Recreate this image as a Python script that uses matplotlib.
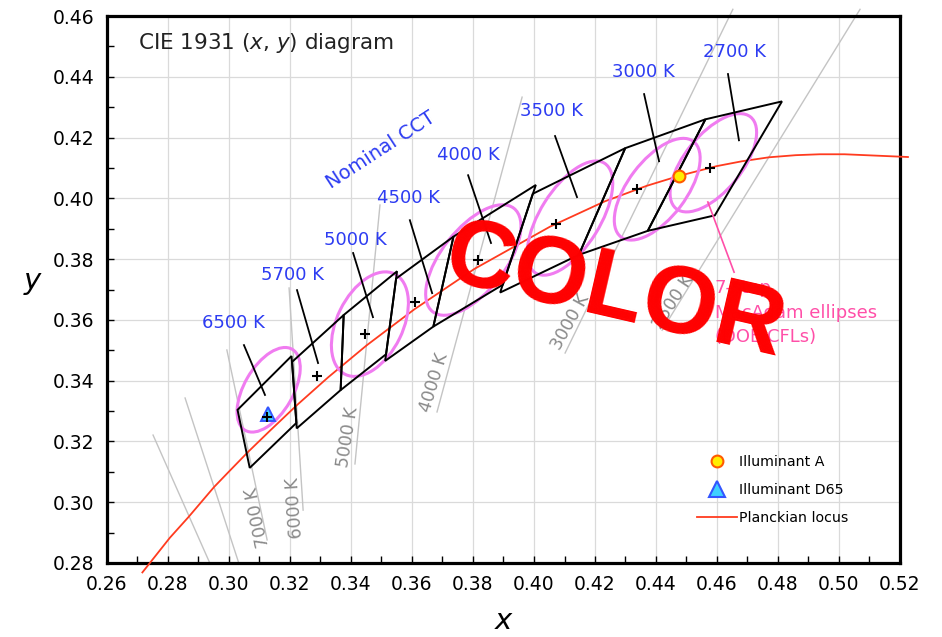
import matplotlib
matplotlib.use('Agg')
import matplotlib.pyplot as plt
from matplotlib.patches import Ellipse, Polygon
from matplotlib.lines import Line2D
from matplotlib.ticker import MultipleLocator, FormatStrFormatter

plt.rcParams['font.family'] = ['DejaVu Sans']
plt.rcParams['mathtext.fontset'] = 'dejavusans'

# ---------------- data ----------------
# Planckian locus (x, y)
planck_x = [0.2716, 0.2806, 0.2867, 0.2951, 0.2999, 0.3063, 0.3135, 0.3221, 0.3325,
            0.3451, 0.3608, 0.3805, 0.4053, 0.4232, 0.4369, 0.4476, 0.4599, 0.4682,
            0.4770, 0.4858, 0.4937, 0.5018, 0.5226]
planck_y = [0.2769, 0.2883, 0.2951, 0.3050, 0.3100, 0.3166, 0.3236, 0.3318, 0.3411,
            0.3516, 0.3635, 0.3768, 0.3907, 0.3990, 0.4041, 0.4074, 0.4106, 0.4122,
            0.4135, 0.4142, 0.4145, 0.4145, 0.4136]

# ANSI quadrangles (nominal CCT)
quad_labels = ['6500 K', '5700 K', '5000 K', '4500 K', '4000 K', '3500 K', '3000 K', '2700 K']
quad_x = [[0.3205, 0.3028, 0.3068, 0.3221],
          [0.3376, 0.3207, 0.3222, 0.3366],
          [0.3551, 0.3376, 0.3366, 0.3515],
          [0.3736, 0.3548, 0.3512, 0.3670],
          [0.4006, 0.3736, 0.3670, 0.3898],
          [0.4299, 0.3996, 0.3889, 0.4147],
          [0.4562, 0.4299, 0.4147, 0.4373],
          [0.4813, 0.4562, 0.4373, 0.4593]]
quad_y = [[0.3481, 0.3304, 0.3113, 0.3261],
          [0.3616, 0.3462, 0.3243, 0.3369],
          [0.3760, 0.3616, 0.3369, 0.3487],
          [0.3874, 0.3736, 0.3465, 0.3578],
          [0.4044, 0.3874, 0.3578, 0.3716],
          [0.4165, 0.4015, 0.3690, 0.3814],
          [0.4260, 0.4165, 0.3814, 0.3893],
          [0.4319, 0.4260, 0.3893, 0.3944]]
quad_cx = [0.3123, 0.3287, 0.3447, 0.3611, 0.3818, 0.4073, 0.4338, 0.4578]
quad_cy = [0.3282, 0.3417, 0.3553, 0.3658, 0.3797, 0.3917, 0.4030, 0.4101]

# blue label anchors and leader lines
label_x = [0.3013, 0.3207, 0.3413, 0.3587, 0.3784, 0.4059, 0.4357, 0.4656]
label_y = [0.3589, 0.3747, 0.3863, 0.4001, 0.4142, 0.4287, 0.4415, 0.4481]
lead_x0 = [0.3049, 0.3223, 0.3407, 0.3593, 0.3784, 0.4069, 0.4361, 0.4636]
lead_y0 = [0.3517, 0.3698, 0.3820, 0.3928, 0.4076, 0.4205, 0.4343, 0.4409]
lead_x1 = [0.3118, 0.3292, 0.3472, 0.3666, 0.3859, 0.4141, 0.4410, 0.4672]
lead_y1 = [0.3353, 0.3458, 0.3609, 0.3688, 0.3853, 0.4004, 0.4122, 0.4191]

# 7-step MacAdam ellipses (DOE CFLs)
ell_cx = [0.3130, 0.3462, 0.3801, 0.4118, 0.4404, 0.4588]
ell_cy = [0.3370, 0.3586, 0.3797, 0.3935, 0.4030, 0.4117]
ell_a = [0.0154, 0.0184, 0.0216, 0.0213, 0.0197, 0.0194]
ell_b = [0.0080, 0.0108, 0.0104, 0.0098, 0.0095, 0.0093]
ell_angle = [60, 64, 52, 58, 53, 51]

# iso-CCT lines
iso_x0 = [0.2751, 0.2856, 0.2993, 0.3197, 0.3495, 0.3961, 0.4652, 0.5069]
iso_y0 = [0.3221, 0.3343, 0.3501, 0.3705, 0.3978, 0.4333, 0.4622, 0.4622]
iso_x1 = [0.2937, 0.3032, 0.3125, 0.3243, 0.3413, 0.3682, 0.4102, 0.4420]
iso_y1 = [0.2800, 0.2800, 0.2876, 0.2974, 0.3126, 0.3297, 0.3491, 0.3566]
iso_labels = ['7000 K', '6000 K', '5000 K', '4000 K', '3000 K', '2500 K']
iso_lab_x = [0.3095, 0.3216, 0.3390, 0.3672, 0.4118, 0.4458]
iso_lab_y = [0.2951, 0.2981, 0.3214, 0.3395, 0.3593, 0.3660]
iso_lab_rot = [102, 94, 81, 73, 61, 57]

illum_a = (0.4476, 0.4074)
illum_d65 = (0.3127, 0.3290)

x_ticks = [0.26, 0.28, 0.30, 0.32, 0.34, 0.36, 0.38, 0.40, 0.42, 0.44, 0.46, 0.48, 0.50, 0.52]
y_ticks = [0.28, 0.30, 0.32, 0.34, 0.36, 0.38, 0.40, 0.42, 0.44, 0.46]

# ---------------- figure ----------------
W, H = 942, 637
fig = plt.figure(figsize=(W / 100, H / 100), dpi=100)
ax = fig.add_axes([107 / W, 1 - 563 / H, 793 / W, 547 / H])
ax.set_xlim(0.26, 0.52)
ax.set_ylim(0.28, 0.46)
ax.set_xticks(x_ticks)
ax.set_yticks(y_ticks)
ax.xaxis.set_minor_locator(MultipleLocator(0.01))
ax.yaxis.set_minor_locator(MultipleLocator(0.01))
ax.xaxis.set_major_formatter(FormatStrFormatter('%.2f'))
ax.yaxis.set_major_formatter(FormatStrFormatter('%.2f'))
ax.grid(True, which='major', color='#dadada', lw=0.9)
ax.set_axisbelow(True)
ax.tick_params(which='both', direction='in', length=5, width=1, top=False, right=False,
               labelsize=13.5, pad=9)
for s in ax.spines.values():
    s.set_linewidth(2.3)

blue = '#2d3cf2'
pink_line = '#f07cf0'
pink_text = '#ff4fa8'
gray_line = '#c4c4c4'
gray_text = '#8a8a8a'

# iso-CCT lines
for x0, y0, x1, y1 in zip(iso_x0, iso_y0, iso_x1, iso_y1):
    ax.plot([x0, x1], [y0, y1], color=gray_line, lw=1.0, zorder=1, clip_on=False)
for t, x, y, r in zip(iso_labels, iso_lab_x, iso_lab_y, iso_lab_rot):
    ax.text(x, y, t, color=gray_text, fontsize=12.5, rotation=r, rotation_mode='anchor',
            ha='center', va='center', zorder=2)

# Planckian locus
ax.plot(planck_x, planck_y, color='#ff3b1f', lw=1.3, zorder=3, clip_on=False)

# ellipses
for cx, cy, a, b, ang in zip(ell_cx, ell_cy, ell_a, ell_b, ell_angle):
    ax.add_patch(Ellipse((cx, cy), 2 * a, 2 * b, angle=ang, fill=False,
                         edgecolor=pink_line, lw=2.2, zorder=4))

# quadrangles
for qx, qy in zip(quad_x, quad_y):
    ax.add_patch(Polygon(list(zip(qx, qy)), closed=True, fill=False,
                         edgecolor='black', lw=1.4, zorder=5))

# leader lines + labels
for t, lx, ly, x0, y0, x1, y1 in zip(quad_labels, label_x, label_y, lead_x0, lead_y0, lead_x1, lead_y1):
    ax.plot([x0, x1], [y0, y1], color='black', lw=1.3, zorder=5)
    ax.text(lx, ly, t, color=blue, fontsize=13, ha='center', va='center', zorder=6)

ax.text(0.3498, 0.4159, 'Nominal CCT', color=blue, fontsize=14, rotation=33,
        rotation_mode='anchor', ha='center', va='center', zorder=6)

# pink annotation
ax.plot([0.4570, 0.4656], [0.3988, 0.3757], color=pink_text, lw=1.2, zorder=5)
for txt, yy in zip(['7-step', 'MacAdam ellipses', '(DOE CFLs)'], [0.3705, 0.3622, 0.3543]):
    ax.text(0.4593, yy, txt, color=pink_text, fontsize=13, ha='left', va='center', zorder=6)

# illuminants and centres
ax.plot([illum_d65[0]], [illum_d65[1]], ls='none', marker='^', ms=10.5, mfc='#3fd0ff',
        mec='#3355ff', mew=1.4, zorder=7)
ax.plot([illum_a[0]], [illum_a[1]], ls='none', marker='o', ms=8.5, mfc='#ffee00',
        mec='#ff5a00', mew=1.5, zorder=7)
ax.plot(quad_cx, quad_cy, ls='none', marker='+', ms=6.5, mew=1.5, color='black', zorder=8)

# title
ax.text(0.039, 0.951, r'CIE 1931 ($\mathit{x}$, $\mathit{y}$) diagram', transform=ax.transAxes,
        fontsize=15.5, ha='left', va='center', color='#222222')

# axis labels
ax.set_xlabel('x', fontsize=21, fontstyle='italic')
ax.xaxis.set_label_coords(0.5, (563 - 629) / 547)
ax.xaxis.label.set_va('baseline')
ax.set_ylabel('y', fontsize=21, fontstyle='italic', rotation=0)
ax.yaxis.set_label_coords((32 - 107) / 793, (563 - 289) / 547)
ax.yaxis.label.set_va('baseline')
ax.yaxis.label.set_ha('center')

# legend
handles = [Line2D([], [], ls='none', marker='o', ms=8.5, mfc='#ffee00', mec='#ff5a00', mew=1.5),
           Line2D([], [], ls='none', marker='^', ms=11, mfc='#3fd0ff', mec='#3355ff', mew=1.5),
           Line2D([], [], color='#ff3b1f', lw=1.3)]
ax.legend(handles, ['Illuminant A', 'Illuminant D65', 'Planckian locus'], loc='center left',
          bbox_to_anchor=(0.744, 0.1335), frameon=False, fontsize=10.2, handlelength=2.8,
          handletextpad=0.15, labelspacing=1.0, borderpad=0, borderaxespad=0)

# watermark
ax.text(0.4244, 0.3605, 'COLOR', color='#ff0000', fontsize=69, fontweight='bold',
        family='Liberation Sans', rotation=-13, rotation_mode='anchor', ha='center',
        va='baseline', zorder=20)

fig.savefig('out.png', dpi=100)
